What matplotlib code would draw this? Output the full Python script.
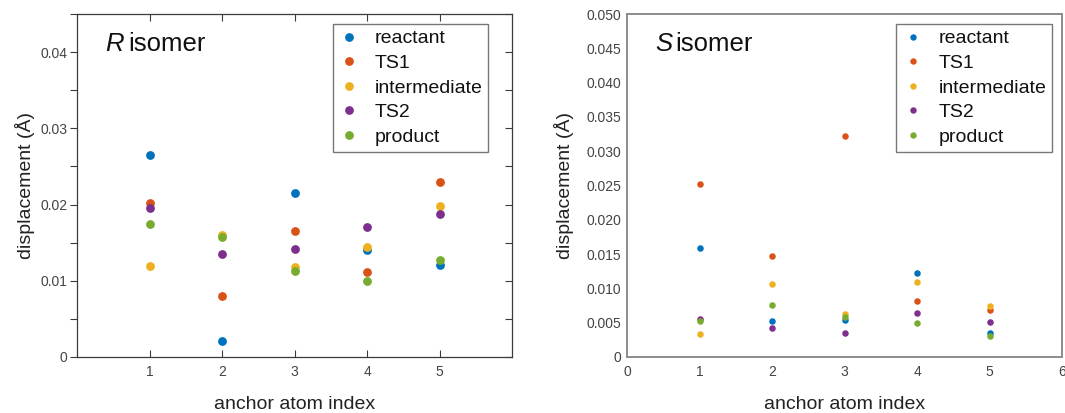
import matplotlib
matplotlib.use("Agg")
import matplotlib.pyplot as plt
from matplotlib.ticker import MultipleLocator, FuncFormatter
from matplotlib.lines import Line2D

plt.rcParams['font.family'] = ['Liberation Sans', 'DejaVu Sans']

anchor = [1, 2, 3, 4, 5]
series_names = ["reactant", "TS1", "intermediate", "TS2", "product"]
colors = ["#0072BD", "#D95319", "#EDB120", "#7E2F8E", "#77AC30"]

R_reactant = [0.0265, 0.0021, 0.0215, 0.0141, 0.0121]
R_TS1 = [0.0202, 0.0080, 0.0165, 0.0111, 0.0229]
R_intermediate = [0.0119, 0.0160, 0.0118, 0.0144, 0.0198]
R_TS2 = [0.0196, 0.0135, 0.0142, 0.0171, 0.0187]
R_product = [0.0175, 0.0157, 0.0113, 0.0100, 0.0127]

S_reactant = [0.0159, 0.0052, 0.0054, 0.0122, 0.0035]
S_TS1 = [0.0252, 0.0147, 0.0322, 0.0081, 0.0068]
S_intermediate = [0.0034, 0.0106, 0.0062, 0.0110, 0.0074]
S_TS2 = [0.0055, 0.0042, 0.0035, 0.0064, 0.0051]
S_product = [0.0052, 0.0076, 0.0058, 0.0049, 0.0031]

R_data = [R_reactant, R_TS1, R_intermediate, R_TS2, R_product]
S_data = [S_reactant, S_TS1, S_intermediate, S_TS2, S_product]

fig = plt.figure(figsize=(10.65, 4.13), dpi=100)
axL = fig.add_axes([77/1065, 1-357/413, 435/1065, 343/413])
axR = fig.add_axes([627/1065, 1-357/413, 435/1065, 343/413])

# ---- Left: R isomer ----
for vals, c, n in zip(R_data, colors, series_names):
    axL.scatter(anchor, vals, s=40, color=c, label=n, zorder=3, linewidths=0)
axL.set_xlim(0, 6)
axL.set_ylim(0, 0.045)
axL.set_xticks(anchor)
axL.yaxis.set_major_locator(MultipleLocator(0.01))
axL.yaxis.set_minor_locator(MultipleLocator(0.005))
axL.yaxis.set_major_formatter(FuncFormatter(lambda v, p: "0" if abs(v) < 1e-12 else f"{v:.2f}"))
frame_dark = "#3a3a3a"
for sp in axL.spines.values():
    sp.set_color(frame_dark)
    sp.set_linewidth(0.9)
axL.tick_params(axis='y', which='both', left=True, right=False, direction='out',
                length=5, width=0.8, color=frame_dark, labelsize=10, labelcolor="#444444", pad=2)
axL.tick_params(axis='x', which='both', bottom=True, top=False, direction='in',
                length=5, width=0.8, color=frame_dark, labelsize=10, labelcolor="#444444", pad=6)
secy = axL.secondary_yaxis('right')
secy.yaxis.set_major_locator(MultipleLocator(0.005))
secy.tick_params(direction='in', length=5, width=0.8, color=frame_dark, labelright=False)
secy.spines['right'].set_visible(False)
secx = axL.secondary_xaxis('top')
secx.set_xticks(anchor)
secx.tick_params(direction='in', length=5, width=0.8, color=frame_dark, labeltop=False)
secx.spines['top'].set_visible(False)
axL.set_xlabel("anchor atom index", fontsize=14, color="#222222", labelpad=12)
axL.set_ylabel("displacement (Å)", fontsize=14, color="#222222", labelpad=4)
axL.text(0.064, 0.912, "R", style='italic', fontsize=18.5, transform=axL.transAxes,
         va='center', ha='left', color="#111111")
axL.text(0.117, 0.912, "isomer", fontsize=18.5, transform=axL.transAxes,
         va='center', ha='left', color="#111111")

# ---- Right: S isomer ----
for vals, c, n in zip(S_data, colors, series_names):
    axR.scatter(anchor, vals, s=22, color=c, label=n, zorder=3, linewidths=0)
axR.set_xlim(0, 6)
axR.set_ylim(0, 0.050)
axR.set_xticks([0, 1, 2, 3, 4, 5, 6])
axR.yaxis.set_major_locator(MultipleLocator(0.005))
axR.yaxis.set_major_formatter(FuncFormatter(lambda v, p: "0" if abs(v) < 1e-12 else f"{v:.3f}"))
frame_grey = "#8c8c8c"
for sp in axR.spines.values():
    sp.set_color(frame_grey)
    sp.set_linewidth(1.4)
axR.tick_params(axis='y', which='both', length=0, labelsize=10, labelcolor="#444444", pad=4)
axR.tick_params(axis='x', which='both', length=0, labelsize=10, labelcolor="#444444", pad=6)
axR.set_xlabel("anchor atom index", fontsize=14, color="#222222", labelpad=12)
axR.set_ylabel("displacement (Å)", fontsize=14, color="#222222", labelpad=9)
axR.text(0.064, 0.912, "S", style='italic', fontsize=18.5, transform=axR.transAxes,
         va='center', ha='left', color="#111111")
axR.text(0.112, 0.912, "isomer", fontsize=18.5, transform=axR.transAxes,
         va='center', ha='left', color="#111111")

def make_legend(ax, msize, anchor_xy, edge):
    handles = [Line2D([0], [0], marker='o', linestyle='none', markersize=msize,
                      markerfacecolor=c, markeredgewidth=0) for c in colors]
    leg = ax.legend(handles, series_names, loc='upper right', bbox_to_anchor=anchor_xy,
                    fontsize=14, frameon=True, fancybox=False, borderaxespad=0,
                    labelspacing=0.36, handletextpad=0.75, handlelength=1.1,
                    borderpad=0.3)
    fr = leg.get_frame()
    fr.set_edgecolor(edge)
    fr.set_linewidth(1.0)
    for t in leg.get_texts():
        t.set_color("#111111")
    return leg

make_legend(axL, 6.3, (0.945, 0.971), "#555555")
make_legend(axR, 4.6, (0.977, 0.971), "#555555")

fig.savefig("out.png", dpi=100)
